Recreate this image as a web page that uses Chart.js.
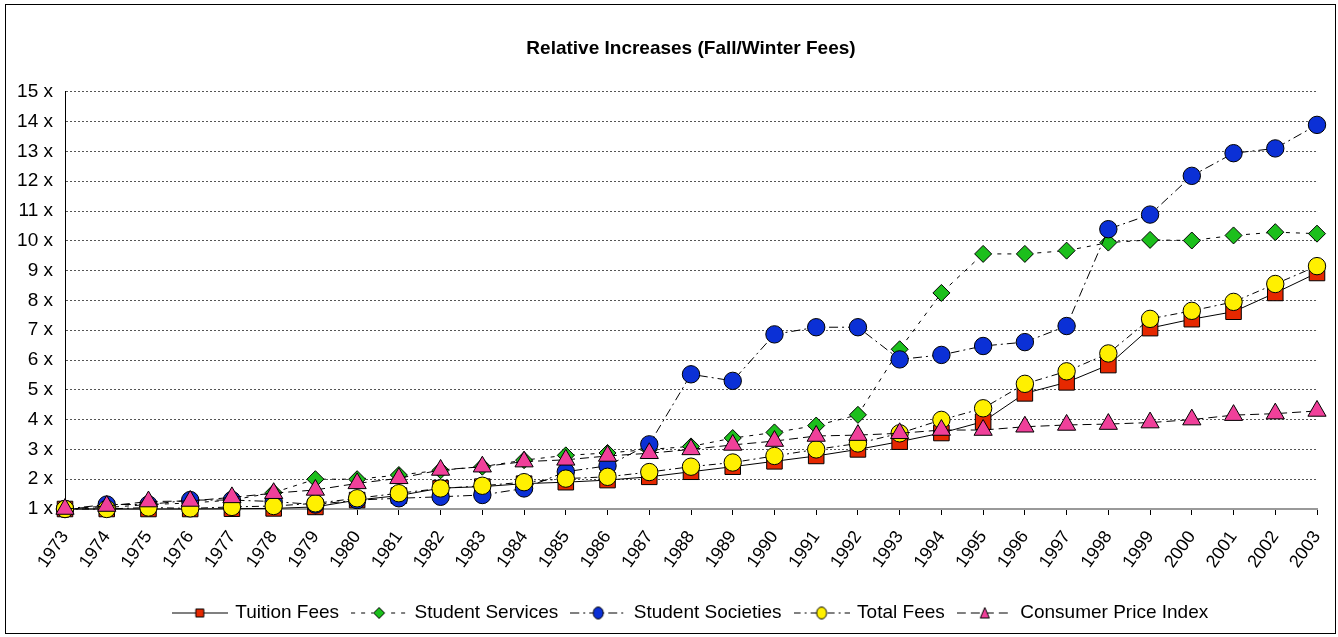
<!DOCTYPE html>
<html>
<head>
<meta charset="utf-8">
<script src="https://cdn.jsdelivr.net/npm/chart.js@4.4.1/dist/chart.umd.min.js"></script>
<style>
  html, body { margin: 0; padding: 0; background: #fff; }
  #wrap { position: relative; width: 1338px; height: 637px; }
  #frame { position: absolute; left: 5px; top: 4px; width: 1331px; height: 630px;
           box-sizing: border-box; border: 1px solid #000; pointer-events: none; }
</style>
</head>
<body>
<div id="wrap">
  <canvas id="feesChart"></canvas>
  <div id="frame"></div>
</div>
<script>
const years = ['1973','1974','1975','1976','1977','1978','1979','1980','1981','1982','1983',
  '1984','1985','1986','1987','1988','1989','1990','1991','1992','1993','1994','1995',
  '1996','1997','1998','1999','2000','2001','2002','2003'];

const tuitionFees = [1.00,1.00,1.00,1.00,1.01,1.02,1.07,1.30,1.45,1.70,1.75,1.85,1.90,1.97,2.08,
  2.25,2.42,2.60,2.78,3.00,3.26,3.55,3.93,4.88,5.25,5.83,7.07,7.37,7.62,8.25,8.92];
const studentServices = [1.00,1.05,1.15,1.20,1.30,1.55,2.00,2.00,2.14,2.30,2.42,2.64,2.80,2.88,3.00,
  3.10,3.38,3.57,3.80,4.16,6.36,8.25,9.56,9.56,9.67,9.94,10.03,10.01,10.18,10.29,10.24];
const studentSocieties = [1.00,1.15,1.15,1.30,1.30,1.25,1.15,1.30,1.36,1.41,1.47,1.69,2.25,2.45,3.17,
  5.52,5.30,6.86,7.10,7.10,6.02,6.17,6.47,6.60,7.14,10.39,10.88,12.18,12.94,13.10,13.89];
const totalFees = [1.00,1.00,1.05,1.02,1.07,1.10,1.19,1.36,1.53,1.69,1.78,1.90,2.02,2.08,2.24,
  2.42,2.56,2.78,3.00,3.20,3.54,3.99,4.38,5.20,5.62,6.22,7.38,7.65,7.95,8.55,9.15];
const consumerPriceIndex = [1.00,1.10,1.25,1.27,1.39,1.53,1.64,1.86,2.03,2.31,2.42,2.59,2.65,2.78,2.87,
  3.00,3.15,3.28,3.45,3.48,3.54,3.65,3.65,3.76,3.82,3.85,3.90,4.00,4.15,4.20,4.29];

const yTicks = { min: 1, max: 15, step: 1, suffix: ' x' };

Chart.defaults.font.family = '"Liberation Sans", Arial, sans-serif';
Chart.defaults.color = '#000';

// small line+marker picture for the legend keys
function legendKey(dash, shape, fill) {
  const c = document.createElement('canvas');
  c.width = 56; c.height = 20;
  const g = c.getContext('2d');
  g.strokeStyle = '#000';
  g.lineWidth = 1;
  g.setLineDash(dash);
  g.beginPath(); g.moveTo(0, 10.5); g.lineTo(56, 10.5); g.stroke();
  g.setLineDash([]);
  g.fillStyle = fill;
  g.beginPath();
  if (shape === 'rect') g.rect(24, 6.5, 8, 8);
  else if (shape === 'rectRot') { g.moveTo(28, 5); g.lineTo(33.5, 10.5); g.lineTo(28, 16); g.lineTo(22.5, 10.5); g.closePath(); }
  else if (shape === 'circle') g.ellipse(28, 10.5, 5, 6, 0, 0, Math.PI * 2);
  else { g.moveTo(28, 5); g.lineTo(32.5, 15.5); g.lineTo(23.5, 15.5); g.closePath(); }
  g.fill(); g.stroke();
  return c;
}

const series = [
  { label: 'Tuition Fees', data: tuitionFees, color: '#E62800', dash: [], shape: 'rect', r: 11, order: 5 },
  { label: 'Student Services', data: studentServices, color: '#1CBF1C', dash: [4, 6], shape: 'rectRot', r: 8.5, order: 4 },
  { label: 'Student Societies', data: studentSocieties, color: '#0B30D6', dash: [9, 4, 2, 4], shape: 'circle', r: 8.7, order: 3 },
  { label: 'Total Fees', data: totalFees, color: '#FFF000', dash: [7, 4, 2, 4], shape: 'circle', r: 8.7, order: 2 },
  { label: 'Consumer Price Index', data: consumerPriceIndex, color: '#F0409A', dash: [9, 5], shape: 'triangle', r: 10.5, order: 1 }
];

const datasets = series.map(s => ({
  label: s.label,
  data: s.data,
  borderColor: '#000',
  borderWidth: 1,
  borderDash: s.dash,
  backgroundColor: s.color,
  pointStyle: s.shape,
  pointRadius: s.r,
  pointHoverRadius: s.r,
  pointBackgroundColor: s.color,
  pointBorderColor: '#000',
  pointBorderWidth: 1,
  fill: false,
  tension: 0,
  order: s.order,
  clip: false
}));

const chart = new Chart(document.getElementById('feesChart'), {
  type: 'line',
  data: { labels: years, datasets: datasets },
  options: {
    responsive: true,
    maintainAspectRatio: false,
    animation: false,
    layout: { padding: { left: 4, right: 0, top: 0, bottom: 5 } },
    plugins: {
      tooltip: { enabled: false },
      title: {
        display: true,
        fullSize: false,
        text: 'Relative Increases (Fall/Winter Fees)',
        font: { size: 19, weight: 'bold' },
        padding: { top: 37, bottom: 32 }
      },
      legend: {
        position: 'bottom',
        fullSize: false,
        labels: {
          font: { size: 19 },
          usePointStyle: true,
          pointStyleWidth: 52,
          padding: 14,
          generateLabels: (ch) => series.map((s, i) => ({
            text: s.label,
            datasetIndex: i,
            pointStyle: legendKey(s.dash, s.shape, s.color),
            fillStyle: s.color,
            strokeStyle: '#000',
            lineWidth: 0,
            hidden: false
          }))
        }
      }
    },
    scales: {
      x: {
        offset: false,
        grid: { display: true, drawOnChartArea: false, drawTicks: true, tickLength: 6, tickColor: '#000' },
        border: { display: true, color: '#999', width: 2 },
        ticks: { autoSkip: false, minRotation: 55, maxRotation: 55, padding: 12, font: { size: 18 } },
        afterFit: (s) => { s.height = 80; s.paddingLeft = 0; s.paddingRight = 0; }
      },
      y: {
        min: yTicks.min,
        max: yTicks.max,
        grid: { color: '#555', drawTicks: false, lineWidth: 1 },
        border: { display: true, color: '#000', width: 1, dash: [2, 2] },
        ticks: { stepSize: yTicks.step, padding: 12, font: { size: 19 }, callback: (v) => v + yTicks.suffix },
        afterFit: (s) => { s.width = 61; }
      },
      yr: {
        position: 'right',
        display: true,
        grid: { display: false },
        border: { display: false },
        ticks: { display: false },
        afterFit: (s) => { s.width = 21; }
      }
    }
  }
});
</script>
</body>
</html>
